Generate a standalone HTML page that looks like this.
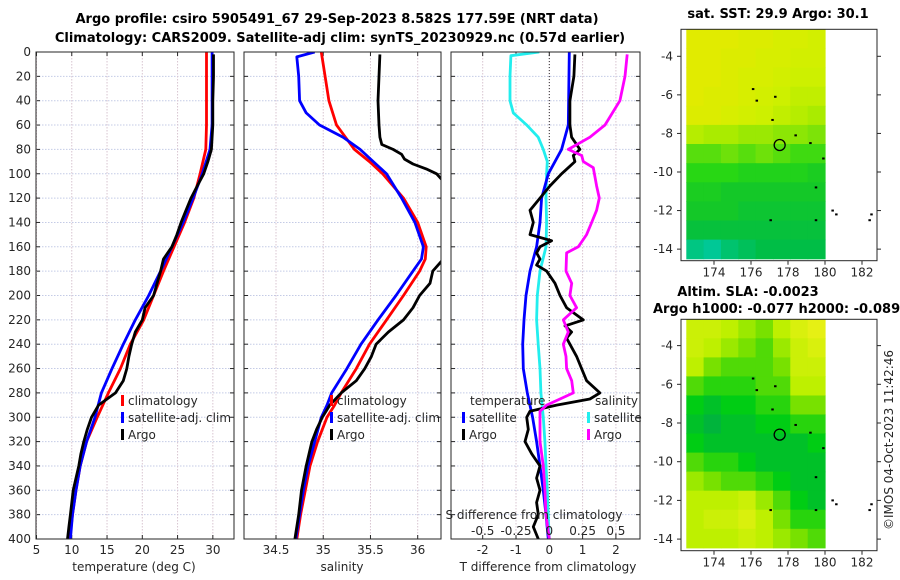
<!DOCTYPE html>
<html><head><meta charset="utf-8"><style>
body{margin:0;background:#fff;}
svg{display:block;font-family:"DejaVu Sans","Liberation Sans",sans-serif;}
.t{font-size:12px;fill:#262626;}
.b{font-size:13px;font-weight:bold;fill:#000;}
</style></head><body>
<svg id="c" width="900" height="580" viewBox="0 0 900 580" xmlns="http://www.w3.org/2000/svg">
<text class="b" x="337" y="23" text-anchor="middle">Argo profile: csiro 5905491_67 29-Sep-2023 8.582S 177.59E (NRT data)</text>
<text class="b" x="340" y="42" text-anchor="middle">Climatology: CARS2009. Satellite-adj clim: synTS_20230929.nc (0.57d earlier)</text>
<text class="b" x="778" y="18" text-anchor="middle">sat. SST: 29.9 Argo: 30.1</text>
<text class="b" x="748" y="296" text-anchor="middle">Altim. SLA: -0.0023</text>
<text class="b" x="653" y="313">Argo h1000: -0.077 h2000: -0.089</text>
<text class="t" x="893" y="440" text-anchor="middle" transform="rotate(-90 893 440)">©IMOS 04-Oct-2023 11:42:46</text>
</svg>
<script>
// ---- data ----
const tDepth=[0,20,40,60,80,100,120,140,160,180,200,220,240,260,280,300,320,340,360,380,400];
const tClim=[29.1,29.1,29.1,29.1,29.0,28.2,27.3,26.0,24.5,23.0,21.6,20.2,18.3,16.9,15.2,13.6,12.1,11.2,10.6,10.1,9.7];
const tSat=[29.9,29.9,29.9,29.9,29.6,28.5,27.2,25.8,24.2,22.6,20.9,19.0,17.3,15.7,14.2,13.3,12.1,11.2,10.6,10.1,9.8];
const argoDepthT=[2,20,40,60,80,90,100,110,120,130,140,150,160,170,180,190,200,210,220,230,240,250,260,270,280,290,300,310,320,330,340,350,360,370,380,390,400];
const argoT=[30.1,30.1,30.0,30.0,29.8,29.3,28.7,27.8,26.9,26.2,25.5,24.9,24.2,23.0,22.6,22.1,21.6,20.4,20.0,19.0,18.5,18.1,17.8,17.3,16.2,13.8,12.8,12.2,11.7,11.3,11.0,10.6,10.2,10.0,9.8,9.6,9.4];
const sClimDepth=[0,20,40,60,80,90,100,120,140,160,170,180,200,220,240,260,280,290,300,320,340,360,380,400];
const sClim=[34.98,35.02,35.06,35.14,35.33,35.49,35.63,35.85,36.0,36.09,36.08,36.02,35.85,35.67,35.49,35.35,35.19,35.12,35.04,34.94,34.86,34.81,34.76,34.72];
const sSatDepth=[0,4,20,40,50,60,70,80,90,100,120,140,160,170,180,200,220,240,260,280,290,300,320,340,360,380,400];
const sSat=[34.91,34.72,34.74,34.75,34.82,34.96,35.21,35.39,35.53,35.67,35.83,35.97,36.06,36.04,35.95,35.77,35.58,35.40,35.25,35.09,35.04,34.98,34.91,34.84,34.79,34.75,34.71];
const argoDepthS=[2,20,40,60,70,76,80,84,88,92,96,100,106,120,140,160,172,180,190,200,210,220,230,240,250,260,270,280,290,300,310,320,340,360,380,400];
const argoS=[35.60,35.59,35.58,35.59,35.60,35.62,35.74,35.83,35.86,35.95,36.09,36.20,36.27,36.40,36.55,36.40,36.25,36.16,36.13,36.02,35.95,35.85,35.69,35.56,35.51,35.44,35.35,35.19,35.07,34.99,34.93,34.88,34.82,34.77,34.74,34.70];
const dTSatDepth=[0,60,80,90,100,120,140,160,180,200,220,240,260,280,300,320,340,360,380,400];
const dTSat=[0.60,0.57,0.37,0.17,-0.03,-0.23,-0.28,-0.38,-0.58,-0.70,-0.76,-0.80,-0.78,-0.66,-0.50,-0.38,-0.28,-0.18,-0.10,-0.03];
const dTArgoDepth=[2,20,40,60,70,80,85,90,95,100,110,120,130,140,150,155,160,165,170,175,180,190,200,210,220,225,230,235,240,250,260,270,280,285,290,295,300,310,320,330,340,350,360,370,380,390,400];
const dTArgo=[0.77,0.74,0.62,0.62,0.67,0.92,0.72,0.77,0.57,0.37,0.02,-0.28,-0.58,-0.48,-0.58,0.07,-0.28,-0.38,-0.28,-0.38,-0.08,0.17,0.32,0.52,1.02,0.47,0.67,0.52,0.62,0.82,0.97,1.12,1.52,1.22,0.22,-0.58,-0.68,-0.63,-0.73,-0.53,-0.28,-0.38,-0.28,-0.38,-0.33,-0.48,-0.33];
const dSSatDepth=[0,3,20,40,50,60,70,80,90,100,120,140,160,180,200,220,240,260,280,300,320,340,360,380,400];
const dSSat=[-0.075,-0.288,-0.295,-0.295,-0.27,-0.17,-0.083,-0.045,-0.015,-0.02,-0.025,-0.02,-0.025,-0.07,-0.09,-0.095,-0.083,-0.07,-0.063,-0.045,-0.033,-0.025,-0.015,-0.008,0.0];
const dSArgoDepth=[2,20,40,60,70,80,85,90,95,110,120,130,140,150,160,165,180,190,200,210,220,230,240,250,260,270,280,285,290,295,300,320,340,360,380,400];
const dSArgo=[0.585,0.568,0.53,0.418,0.305,0.143,0.243,0.255,0.33,0.355,0.375,0.355,0.318,0.28,0.218,0.13,0.125,0.168,0.155,0.205,0.105,0.143,0.105,0.125,0.13,0.168,0.18,0.08,-0.02,-0.07,-0.07,-0.07,-0.045,-0.033,-0.025,0.0];
const depthTicks=[0,20,40,60,80,100,120,140,160,180,200,220,240,260,280,300,320,340,360,380,400];
const tTicks=[5,10,15,20,25,30];
const sTicks=[34.5,35,35.5,36];
const dTTicks=[-2,-1,0,1,2];
const dSTicks=[-0.5,-0.25,0,0.25,0.5];
const dSTickLabels=["-0.5","-0.25","0","0.25","0.5"];
const sstGrid=[
[30.7,30.7,30.7,30.6,30.6,30.5,30.5,30.4],
[30.7,30.7,30.6,30.6,30.5,30.5,30.4,30.4],
[30.7,30.7,30.6,30.5,30.5,30.4,30.3,30.3],
[30.7,30.6,30.6,30.5,30.4,30.3,30.2,30.2],
[30.6,30.6,30.5,30.4,30.3,30.2,30.1,30.0],
[30.1,30.0,30.0,29.9,29.9,29.8,29.8,29.7],
[29.5,29.5,29.6,29.5,29.6,29.5,29.4,29.4],
[29.3,29.3,29.3,29.2,29.2,29.2,29.2,29.1],
[29.1,29.1,29.0,29.0,29.0,29.0,29.0,29.0],
[29.0,29.0,29.0,28.9,28.9,28.9,28.9,28.9],
[28.8,28.8,28.8,28.8,28.8,28.8,28.8,28.8],
[28.4,28.3,28.5,28.6,28.7,28.7,28.7,28.7]];
const slaGrid=[
[0.03,0.03,0.02,0.01,0.0,0.02,0.04,0.05],
[0.03,0.02,0.01,0.0,-0.01,0.01,0.03,0.04],
[0.02,0.0,-0.01,-0.01,-0.01,0.0,0.03,0.03],
[-0.01,-0.02,-0.02,-0.02,-0.01,-0.01,0.02,0.02],
[-0.03,-0.04,-0.03,-0.03,-0.02,-0.02,0.0,0.0],
[-0.04,-0.05,-0.04,-0.04,-0.03,-0.03,-0.02,-0.02],
[-0.03,-0.04,-0.04,-0.04,-0.04,-0.04,-0.04,-0.03],
[-0.01,-0.02,-0.02,-0.03,-0.04,-0.04,-0.04,-0.04],
[0.01,0.0,-0.01,-0.01,-0.02,-0.03,-0.04,-0.04],
[0.02,0.02,0.02,0.03,0.01,-0.01,-0.03,-0.04],
[0.02,0.03,0.03,0.04,0.02,0.0,-0.02,-0.02],
[0.02,0.02,0.02,0.03,0.02,0.01,0.0,-0.01]];
const lonTicks=[174,176,178,180,182];
const latTicks=[-4,-6,-8,-10,-12,-14];
const argoLon=177.55, argoLat=-8.6;
const coastLon=[176.1,176.3,177.3,177.15,178.4,179.2,179.9,179.5,177.05,179.5,180.4,180.6,182.4,182.5];
const coastLat=[-5.7,-6.3,-6.1,-7.3,-8.1,-8.5,-9.3,-10.8,-12.5,-12.5,-12.0,-12.2,-12.5,-12.2];

// ---- drawing ----
const NS="http://www.w3.org/2000/svg";
const svg=document.getElementById('c');
function mk(tag,attrs,parent){const e=document.createElementNS(NS,tag);for(const k in attrs)e.setAttribute(k,attrs[k]);(parent||svg).appendChild(e);return e;}
const Y0=52,Y1=539;
const yD=d=>Y0+d*(Y1-Y0)/400;
function lin(d0,d1,r0,r1){return v=>r0+(v-d0)*(r1-r0)/(d1-d0);}
const P=[
 {name:'temperature',x0:36,x1:234,sx:lin(5,33,36.5,234)},
 {name:'salinity',x0:244,x1:441,sx:lin(34.5,36,276,417.7)},
 {name:'difference',x0:451,x1:640,sx:lin(0,1,549.3,582.6)}
];
const sxS=lin(0,0.25,549.3,582.6);
P.forEach((p,i)=>{
  const g=mk('g',{});
  
  
  const cp=mk('clipPath',{id:'cp'+i},g);mk('rect',{x:p.x0,y:Y0,width:p.x1-p.x0,height:Y1-Y0},cp);
  depthTicks.forEach(d=>{
    const y=yD(d);
    const gl=mk('line',{x1:p.x0,x2:p.x1,y1:y,y2:y,stroke:'#c4cbe6','stroke-width':1,'stroke-dasharray':'1.5,1.5'},g);
    
    
    mk('line',{x1:p.x0,x2:p.x0+4,y1:y,y2:y,stroke:'#262626'},g);
    mk('line',{x1:p.x1-4,x2:p.x1,y1:y,y2:y,stroke:'#262626'},g);
    if(i===0){const t=mk('text',{x:31,y:y+4,'text-anchor':'end',class:'t'},g);t.textContent=d;
      
      }
  });
  p.g=g;
});
function xTicks(p,vals,labels,sx){
  vals.forEach((v,k)=>{
    const x=sx(v);
    const gl=mk('line',{x1:x,x2:x,y1:Y0,y2:Y1,stroke:'#d8c4d0','stroke-width':1,'stroke-dasharray':'1.5,1.5'},p.g);
    
    
    mk('line',{x1:x,x2:x,y1:Y1,y2:Y1-4,stroke:'#262626'},p.g);
    mk('line',{x1:x,x2:x,y1:Y0,y2:Y0+4,stroke:'#262626'},p.g);
    const t=mk('text',{x:x,y:554,'text-anchor':'middle',class:'t'},p.g);t.textContent=labels[k];
    
    
  });
}
xTicks(P[0],tTicks,tTicks,P[0].sx);
xTicks(P[1],sTicks,sTicks,P[1].sx);
xTicks(P[2],dTTicks,dTTicks,P[2].sx);
const zl=mk('line',{x1:549.3,x2:549.3,y1:Y0,y2:Y1,stroke:'#333','stroke-width':1,'stroke-dasharray':'1,2'},P[2].g);


function series(p,i,vals,depths,sx,color,name){
  let d='';vals.forEach((v,k)=>{d+=(k?'L':'M')+sx(v).toFixed(1)+','+yD(depths[k]).toFixed(1);});
  const e=mk('path',{d:d,fill:'none',stroke:color,'stroke-width':2.8,'stroke-linejoin':'round','clip-path':'url(#cp'+i+')'},p.g);
  
  
}
series(P[0],0,tClim,tDepth,P[0].sx,'#ff0000','temperature-climatology-line');
series(P[0],0,tSat,tDepth,P[0].sx,'#0000ff','temperature-satellite-line');
series(P[0],0,argoT,argoDepthT,P[0].sx,'#000','temperature-argo-line');
series(P[1],1,sClim,sClimDepth,P[1].sx,'#ff0000','salinity-climatology-line');
series(P[1],1,sSat,sSatDepth,P[1].sx,'#0000ff','salinity-satellite-line');
series(P[1],1,argoS,argoDepthS,P[1].sx,'#000','salinity-argo-line');
series(P[2],2,dSSat,dSSatDepth,sxS,'#22eeee','salinity-diff-satellite-line');
series(P[2],2,dTSat,dTSatDepth,P[2].sx,'#0000ff','temperature-diff-satellite-line');
series(P[2],2,dTArgo,dTArgoDepth,P[2].sx,'#000','temperature-diff-argo-line');
series(P[2],2,dSArgo,dSArgoDepth,sxS,'#ff00ff','salinity-diff-argo-line');
P.forEach(p=>{const r=mk('rect',{x:p.x0,y:Y0,width:p.x1-p.x0,height:Y1-Y0,fill:'none',stroke:'#262626','stroke-width':1},p.g);
  
  });
dSTicks.forEach((v,k)=>{const t=mk('text',{x:sxS(v),y:535,'text-anchor':'middle',class:'t'},P[2].g);t.textContent=dSTickLabels[k];
  
  });
function txt(x,y,s,name,anchor){const t=mk('text',{x:x,y:y,class:'t','text-anchor':anchor||'start'});t.textContent=s;
  
  return t;}
txt(534,519,'S difference from climatology','s-diff-axis-title','middle');
txt(134,571,'temperature (deg C)','x-axis-title-temperature','middle');
txt(342,571,'salinity','x-axis-title-salinity','middle');
txt(548,571,'T difference from climatology','x-axis-title-tdiff','middle');
function leg(x,y,color,label,name){
  const m=mk('rect',{x:x,y:y-10,width:3,height:11,fill:color});
  
  
  txt(x+7,y,label,name);
}
leg(121,405,'#ff0000','climatology','legend-climatology-t');
leg(121,422,'#0000ff','satellite-adj. clim','legend-satellite-t');
leg(121,439,'#000','Argo','legend-argo-t');
leg(330,405,'#ff0000','climatology','legend-climatology-s');
leg(330,422,'#0000ff','satellite-adj. clim','legend-satellite-s');
leg(330,439,'#000','Argo','legend-argo-s');
txt(470,405,'temperature','legend-temperature-heading');
leg(462,422,'#0000ff','satellite','legend-tdiff-satellite');
leg(462,439,'#000','Argo','legend-tdiff-argo');
txt(595,405,'salinity','legend-salinity-heading');
leg(587,422,'#22eeee','satellite','legend-sdiff-satellite');
leg(587,439,'#ff00ff','Argo','legend-sdiff-argo');
function cmap(stops,v){
  if(v<=stops[0][0])return stops[0][1];
  for(let k=1;k<stops.length;k++){if(v<=stops[k][0]){const a=stops[k-1],b=stops[k],f=(v-a[0])/(b[0]-a[0]);
    return 'rgb('+[0,1,2].map(j=>Math.round(a[1][j]+(b[1][j]-a[1][j])*f)).join(',')+')';}}
  return stops[stops.length-1][1];
}
const sstStops=[[28.3,[0,200,150]],[28.7,[0,190,70]],[29.0,[20,200,40]],[29.3,[40,215,20]],[29.6,[110,225,10]],[30.0,[170,235,0]],[30.3,[205,240,0]],[30.7,[225,235,0]]];
const slaStops=[[-0.05,[0,180,60]],[-0.03,[0,205,20]],[0,[120,225,0]],[0.02,[190,240,0]],[0.05,[230,240,20]]];
function toRgb(c){return typeof c==='string'?c:'rgb('+c.join(',')+')';}
function drawMap(top,bottom,latTop,latBot,grid,stops,name,dataBot){
  const g=mk('g',{});
  
  
  const sx=lin(174,182,714,862), sy=lin(latTop,latBot,top,bottom);
  const rows=grid.length, cols=grid[0].length;
  const lonA=172.5,lonB=180, latA=latTop, latB=dataBot;
  grid.forEach((row,r)=>row.forEach((v,c)=>{
    const x0=sx(lonA+(lonB-lonA)*c/cols), x1=sx(lonA+(lonB-lonA)*(c+1)/cols);
    const y0=sy(latA+(latB-latA)*r/rows), y1=sy(latA+(latB-latA)*(r+1)/rows);
    const e=mk('rect',{x:x0.toFixed(1),y:y0.toFixed(1),width:(x1-x0+0.6).toFixed(1),height:(y1-y0+0.6).toFixed(1),fill:toRgb(cmap(stops,v))},g);
    
    
  }));
  coastLon.forEach((lo,k)=>{const d=mk('rect',{x:sx(lo)-1,y:sy(coastLat[k])-1,width:2.5,height:2,fill:'#000'},g);
    
    });
  const c=mk('circle',{cx:sx(argoLon),cy:sy(argoLat),r:5.5,fill:'none',stroke:'#000','stroke-width':1.3},g);
  
  
  const fr=mk('rect',{x:681,y:top,width:196,height:bottom-top,fill:'none',stroke:'#262626'},g);
  
  
  lonTicks.forEach(lo=>{const x=sx(lo);mk('line',{x1:x,x2:x,y1:bottom,y2:bottom+4,stroke:'#262626'},g);
    const t=mk('text',{x:x,y:bottom+16,'text-anchor':'middle',class:'t'},g);t.textContent=lo;
    
    });
  latTicks.forEach(la=>{const y=sy(la);mk('line',{x1:877,x2:881,y1:y,y2:y,stroke:'#262626'},g);mk('line',{x1:677,x2:681,y1:y,y2:y,stroke:'#262626'},g);
    const t=mk('text',{x:673,y:y+4,'text-anchor':'end',class:'t'},g);t.textContent=la;
    
    });
}
drawMap(29.3,260.7,-2.6,-14.6,sstGrid,sstStops,'sst-map',-14.5);
drawMap(319.3,550.7,-2.64,-14.6,slaGrid,slaStops,'sla-map',-14.45);
</script>
</body></html>
